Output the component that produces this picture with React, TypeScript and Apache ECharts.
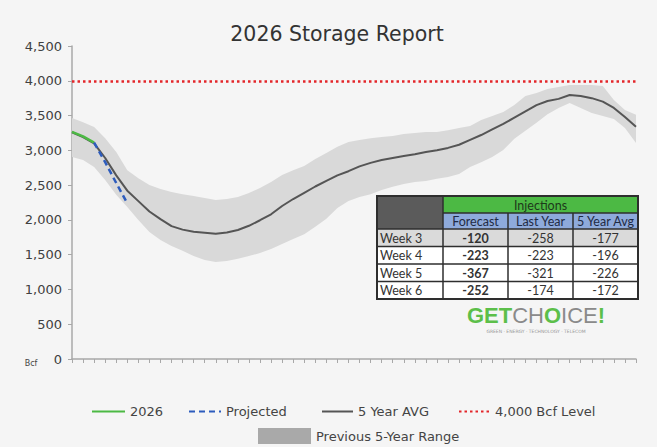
import React, { useEffect, useRef } from "react";
import * as echarts from "echarts";

// ---------- data ----------
const weeks: string[] = Array.from({ length: 52 }, (_, i) => `Week ${i + 1}`);

const fiveYearAvg: number[] = [
  3260, 3190, 3100, 2890, 2640, 2420, 2270, 2120, 2010, 1910,
  1860, 1830, 1815, 1800, 1820, 1855, 1915, 1995, 2080, 2200,
  2300, 2390, 2480, 2560, 2640, 2700, 2770, 2820, 2860, 2890,
  2920, 2945, 2975, 3000, 3035, 3080, 3150, 3220, 3300, 3380,
  3470, 3560, 3650, 3710, 3740, 3795, 3780, 3750, 3700, 3610,
  3480, 3340,
];

const rangeUpper: number[] = [
  3465, 3405, 3335, 3175, 2975, 2715, 2600, 2500, 2445, 2400,
  2370, 2345, 2315, 2285, 2300, 2330, 2385, 2460, 2545, 2645,
  2715, 2775, 2875, 2960, 3050, 3120, 3150, 3175, 3190, 3205,
  3235, 3250, 3265, 3265, 3290, 3320, 3350, 3435, 3495, 3550,
  3650, 3780, 3825, 3880, 3910, 3940, 3940, 3940, 3925, 3725,
  3580, 3510,
];

const rangeLower: number[] = [
  2905, 2860, 2760, 2575, 2360, 2185, 2000, 1825, 1710, 1625,
  1555, 1480, 1425, 1395, 1410, 1440, 1480, 1525, 1580, 1655,
  1725, 1795, 1900, 2015, 2170, 2270, 2330, 2370, 2430, 2475,
  2515, 2545, 2560, 2590, 2615, 2660, 2760, 2830, 2905, 3005,
  3165, 3280, 3395, 3520, 3610, 3680, 3610, 3535, 3495, 3450,
  3320, 3105,
];

const storage2026: (number | null)[] = [3265, 3200, 3110];
const projected: (number | null)[] = [null, null, 3110, 2830, 2530, 2240];
const levelBcf = 4000;

const yTicks = { min: 0, max: 4500, interval: 500 };

// table
const tableWeeks: string[] = ["Week 3", "Week 4", "Week 5", "Week 6"];
const tableForecast: number[] = [-120, -223, -367, -252];
const tableLastYear: number[] = [-258, -223, -321, -174];
const tableFiveYearAvg: number[] = [-177, -196, -226, -172];
const tableHeaders: string[] = ["Forecast", "Last Year", "5 Year Avg"];

// ---------- styles ----------
const FONT = "DejaVu Sans";
const TFONT = "Lato";
const GREEN = "#4cb944";
const BLUE = "#2d5cbd";
const AVG = "#555555";
const RED = "#e3262a";

function buildTable(): any[] {
  const colX = [377, 443, 508, 573, 638];
  const h1 = 196, h2 = 213, r0 = 229, rowH = 17.5;
  const bottom = r0 + rowH * tableWeeks.length;
  const els: any[] = [];
  const border = "#2e2e2e";
  els.push({ type: "rect", shape: { x: colX[0], y: h1, width: colX[1] - colX[0], height: r0 - h1 }, style: { fill: "#5b5b5b" } });
  els.push({ type: "rect", shape: { x: colX[1], y: h1, width: colX[4] - colX[1], height: h2 - h1 }, style: { fill: GREEN } });
  els.push({ type: "rect", shape: { x: colX[1], y: h2, width: colX[4] - colX[1], height: r0 - h2 }, style: { fill: "#8eaadb" } });
  tableWeeks.forEach((_, i) => {
    els.push({ type: "rect", shape: { x: colX[0], y: r0 + i * rowH, width: colX[4] - colX[0], height: rowH }, style: { fill: i === 0 ? "#dadada" : "#ffffff" } });
  });
  els.push({ type: "text", style: { text: "Injections", x: (colX[1] + colX[4]) / 2, y: (h1 + h2) / 2 + 0.5, align: "center", verticalAlign: "middle", fontFamily: TFONT, fontSize: 12.5, fill: "#1d3a1a" } });
  tableHeaders.forEach((t, j) => {
    els.push({ type: "text", style: { text: t, x: (colX[j + 1] + colX[j + 2]) / 2, y: (h2 + r0) / 2 + 0.5, align: "center", verticalAlign: "middle", fontFamily: TFONT, fontSize: 12.5, fill: "#1f2a44" } });
  });
  tableWeeks.forEach((w, i) => {
    const cy = r0 + i * rowH + rowH / 2 + 0.5;
    els.push({ type: "text", style: { text: w, x: colX[0] + 3, y: cy, align: "left", verticalAlign: "middle", fontFamily: TFONT, fontSize: 12.5, fill: "#333" } });
    const vals = [tableForecast[i], tableLastYear[i], tableFiveYearAvg[i]];
    vals.forEach((v, j) => {
      els.push({ type: "text", style: { text: String(v), x: (colX[j + 1] + colX[j + 2]) / 2, y: cy, align: "center", verticalAlign: "middle", fontFamily: TFONT, fontSize: 12.5, fontWeight: j === 0 ? "bold" : "normal", fill: "#333" } });
    });
  });
  const ls = { stroke: border, lineWidth: 1.5 };
  [h2, r0].forEach((y) => els.push({ type: "line", shape: { x1: y === h2 ? colX[1] : colX[0], y1: y, x2: colX[4], y2: y }, style: ls }));
  tableWeeks.forEach((_, i) => {
    if (i > 0) els.push({ type: "line", shape: { x1: colX[0], y1: r0 + i * rowH, x2: colX[4], y2: r0 + i * rowH }, style: ls });
  });
  els.push({ type: "line", shape: { x1: colX[1], y1: h1, x2: colX[1], y2: bottom }, style: ls });
  [2, 3].forEach((k) => els.push({ type: "line", shape: { x1: colX[k], y1: h2, x2: colX[k], y2: bottom }, style: ls }));
  els.push({ type: "rect", shape: { x: colX[0], y: h1, width: colX[4] - colX[0], height: bottom - h1 }, style: { fill: "none", stroke: border, lineWidth: 2 } });
  return els;
}

export default function App() {
  const ref = useRef<HTMLDivElement>(null);

  useEffect(() => {
    if (!ref.current) return;
    const chart = echarts.init(ref.current, null, { renderer: "svg" });
    const rangeSpan = rangeUpper.map((u, i) => u - rangeLower[i]);
    const legendText = { fontFamily: FONT, fontSize: 13, color: "#444" };
    const lineLegend = (name: string, left: number, w: number) => ({
      data: [name],
      left,
      top: 405,
      padding: 0,
      itemWidth: w,
      itemHeight: 14,
      itemStyle: { opacity: 0 },
      textStyle: legendText,
    });

    chart.setOption({
      animation: false,
      backgroundColor: "#f5f5f5",
      grid: { left: 72, right: 21, top: 46, bottom: 88 },
      xAxis: {
        type: "category",
        data: weeks,
        boundaryGap: false,
        axisLine: { lineStyle: { color: "#a8a8a8", width: 1.5 } },
        axisTick: { show: true, length: 4, interval: 0, lineStyle: { color: "#a8a8a8" } },
        axisLabel: { show: false },
        splitLine: { show: false },
      },
      yAxis: {
        type: "value",
        min: yTicks.min,
        max: yTicks.max,
        interval: yTicks.interval,
        axisLine: { show: true, lineStyle: { color: "#a8a8a8", width: 1.5 } },
        axisTick: { show: true, length: 4, lineStyle: { color: "#a8a8a8" } },
        axisLabel: {
          fontFamily: FONT,
          fontSize: 13,
          color: "#404040",
          margin: 10,
          formatter: (v: number) => v.toLocaleString("en-US"),
        },
        splitLine: { show: false },
      },
      legend: [
        lineLegend("2026", 91, 33),
        lineLegend("Projected", 188, 32),
        lineLegend("5 Year AVG", 321, 31),
        lineLegend("4,000 Bcf Level", 458, 31),
        {
          data: [{ name: "Previous 5-Year Range", icon: "rect", itemStyle: { color: "#a9a9a9" } }],
          left: 258, top: 428, padding: 0, itemWidth: 53, itemHeight: 16, textStyle: legendText,
        },
      ],
      series: [
        {
          name: "rangeBase",
          type: "line",
          data: rangeLower,
          stack: "band",
          symbol: "none",
          silent: true,
          lineStyle: { width: 0, opacity: 0 },
        },
        {
          name: "Previous 5-Year Range",
          type: "line",
          data: rangeSpan,
          stack: "band",
          symbol: "none",
          silent: true,
          color: "#a9a9a9",
          lineStyle: { width: 0, opacity: 0 },
          areaStyle: { color: "#d9d9d9", opacity: 1 },
        },
        {
          name: "5 Year AVG",
          type: "line",
          data: fiveYearAvg,
          symbol: "none",
          color: AVG,
          lineStyle: { color: AVG, width: 2 },
        },
        {
          name: "2026",
          type: "line",
          data: storage2026,
          symbol: "none",
          color: GREEN,
          lineStyle: { color: GREEN, width: 2.5 },
        },
        {
          name: "Projected",
          type: "line",
          data: projected,
          symbol: "none",
          color: BLUE,
          lineStyle: { color: BLUE, width: 2.5, type: [6, 4] },
        },
        {
          name: "4,000 Bcf Level",
          type: "line",
          data: [],
          symbol: "none",
          color: RED,
          lineStyle: { color: RED, width: 2.5, type: [2.5, 3] },
          markLine: {
            silent: true,
            symbol: "none",
            label: { show: false },
            lineStyle: { color: RED, width: 2.5, type: [2.5, 3] },
            data: [{ yAxis: levelBcf }],
          },
        },
      ],
      graphic: [
        {
          type: "text",
          style: { text: "2026 Storage Report", x: 337, y: 34, align: "center", verticalAlign: "middle", fontFamily: FONT, fontSize: 20.5, fill: "#333" },
        },
        {
          type: "text",
          style: { text: "Bcf", x: 31, y: 363, align: "center", verticalAlign: "middle", fontFamily: FONT, fontSize: 8, fill: "#444" },
        },
        ...buildTable(),
        {
          type: "text",
          style: {
            text: "{g|GET}{c|CH}{g|O}{c|ICE}{g|!}",
            x: 536,
            y: 315,
            align: "center",
            verticalAlign: "middle",
            rich: {
              g: { fontFamily: "Liberation Sans", fontSize: 22, fontWeight: "bold", fill: "#5cbf4a", color: "#5cbf4a" },
              c: { fontFamily: "Liberation Sans", fontSize: 22, fontWeight: "normal", fill: "#8a8a8a", color: "#8a8a8a" },
            },
          },
        },
        {
          type: "text",
          style: { text: "GREEN · ENERGY · TECHNOLOGY · TELECOM", x: 536, y: 331, align: "center", verticalAlign: "middle", fontFamily: FONT, fontSize: 4.5, fill: "#999" },
        },
      ],
    });

    return () => chart.dispose();
  }, []);

  return <div ref={ref} style={{ position: "fixed", left: 0, top: 0, width: 657, height: 447 }} />;
}
